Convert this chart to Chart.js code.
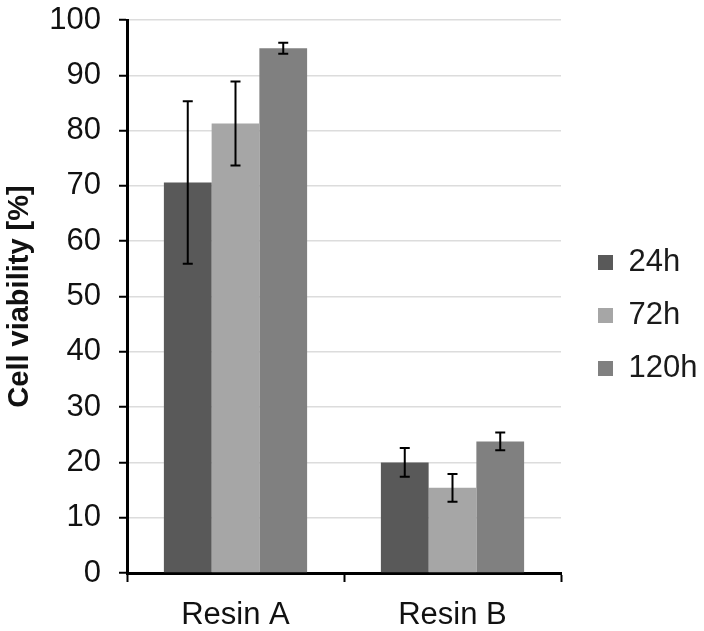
<!DOCTYPE html>
<html>
<head>
<meta charset="utf-8">
<script src="https://cdn.jsdelivr.net/npm/chart.js@4/dist/chart.umd.min.js"></script>
<style>
  html, body { margin: 0; padding: 0; background: #fff; }
  #wrap { width: 704px; height: 631px; }
</style>
</head>
<body>
<div id="wrap"><canvas id="chart"></canvas></div>
<script>
// values
const categories = ['Resin A', 'Resin B'];
const seriesNames = ['24h', '72h', '120h'];
const h24 = [70.6, 20.0];
const h24Err = [14.7, 2.6];
const h72 = [81.3, 15.4];
const h72Err = [7.6, 2.5];
const h120 = [94.9, 23.8];
const h120Err = [1.0, 1.6];
const colors = ['#595959', '#a6a6a6', '#808080'];

const FONT = "'Liberation Sans', Arial, sans-serif";

// draws +/- error whiskers on top of every bar
const errorBars = {
    id: 'errorBars',
    afterDatasetsDraw(chart) {
        const ctx = chart.ctx;
        const yScale = chart.scales.y;
        chart.data.datasets.forEach((ds, i) => {
            const meta = chart.getDatasetMeta(i);
            if (meta.hidden) return;
            meta.data.forEach((bar, j) => {
                const v = ds.data[j], e = ds.errors[j];
                const top = yScale.getPixelForValue(v + e);
                const bot = yScale.getPixelForValue(v - e);
                const x = bar.x;
                ctx.save();
                ctx.strokeStyle = '#000';
                ctx.lineWidth = 2;
                ctx.beginPath();
                ctx.moveTo(x, top); ctx.lineTo(x, bot);
                ctx.moveTo(x - 5, top); ctx.lineTo(x + 5, top);
                ctx.moveTo(x - 5, bot); ctx.lineTo(x + 5, bot);
                ctx.stroke();
                ctx.restore();
            });
        });
    }
};

const values = [h24, h72, h120];
const errs = [h24Err, h72Err, h120Err];

new Chart(document.getElementById('chart'), {
    type: 'bar',
    data: {
        labels: categories,
        datasets: seriesNames.map((name, i) => ({
            label: name,
            data: values[i],
            errors: errs[i],
            backgroundColor: colors[i],
            borderWidth: 0,
            categoryPercentage: 0.66,
            barPercentage: 1.0
        }))
    },
    options: {
        responsive: true,
        maintainAspectRatio: false,
        animation: false,
        layout: { padding: 0 },
        plugins: {
            tooltip: { enabled: false },
            legend: {
                position: 'right',
                align: 'center',
                maxWidth: 128,
                labels: {
                    boxWidth: 15,
                    boxHeight: 15,
                    padding: 22,
                    color: '#1a1a1a',
                    font: { family: FONT, size: 31 }
                }
            }
        },
        scales: {
            x: {
                grid: {
                    offset: true,
                    drawOnChartArea: false,
                    drawTicks: true,
                    tickLength: 9,
                    tickColor: '#000',
                    tickWidth: 2
                },
                border: { color: '#000', width: 3 },
                ticks: {
                    color: '#111',
                    padding: 16,
                    font: { family: FONT, size: 31, lineHeight: 1.1 }
                },
                afterFit(scale) { scale.height = 58; }
            },
            y: {
                min: 0,
                max: 100,
                ticks: {
                    stepSize: 10,
                    color: '#111',
                    padding: 18,
                    font: { family: FONT, size: 31 }
                },
                grid: {
                    color: '#dcdcdc',
                    lineWidth: 1.5,
                    tickColor: '#000',
                    tickLength: 8,
                    tickWidth: 2
                },
                border: { color: '#000', width: 3 },
                title: {
                    display: true,
                    text: 'Cell viability [%]',
                    color: '#111',
                    padding: { top: 3, bottom: 0 },
                    font: { family: FONT, size: 29, weight: 'bold' }
                },
                afterFit(scale) {
                    scale.width = 127;
                    scale.paddingTop = 20;
                    scale.paddingBottom = 10;
                }
            },
            // empty axis only used to leave a gap between the plot and the legend
            gap: {
                position: 'right',
                display: true,
                grid: { display: false },
                border: { display: false },
                ticks: { display: false },
                afterFit(scale) { scale.width = 15; }
            }
        }
    },
    plugins: [errorBars]
});
</script>
</body>
</html>
